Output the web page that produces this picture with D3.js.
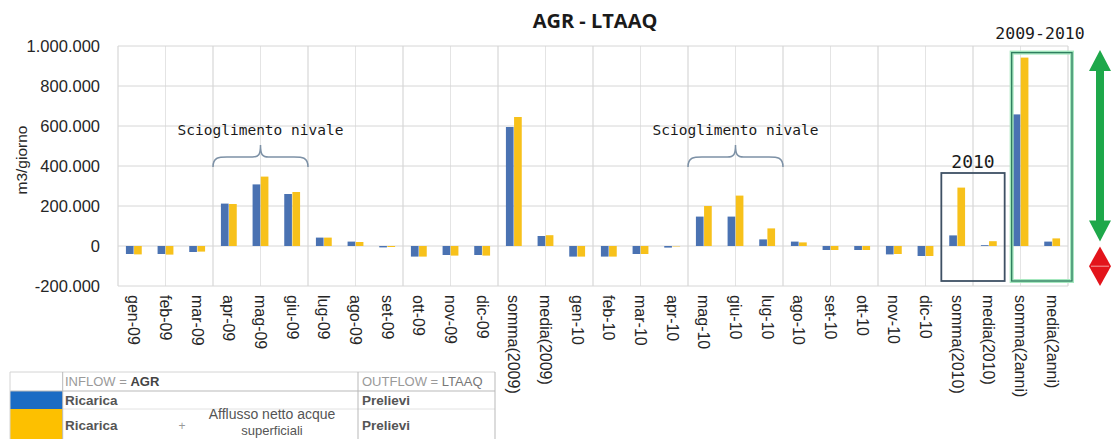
<!DOCTYPE html>
<html>
<head>
<meta charset="utf-8">
<script src="https://cdn.jsdelivr.net/npm/d3@7/dist/d3.min.js"></script>
<style>
  html, body { margin: 0; padding: 0; background: #fff; }
  svg { display: block; }
</style>
</head>
<body>
<svg id="chart" width="1118" height="439" font-family="'Liberation Sans', Arial, sans-serif"></svg>
<script>
const categories = ["gen-09","feb-09","mar-09","apr-09","mag-09","giu-09","lug-09","ago-09","set-09","ott-09","nov-09","dic-09",
  "somma(2009)","media(2009)",
  "gen-10","feb-10","mar-10","apr-10","mag-10","giu-10","lug-10","ago-10","set-10","ott-10","nov-10","dic-10",
  "somma(2010)","media(2010)","somma(2anni)","media(2anni)"];
const seriesNames = ["Ricarica", "Ricarica + Afflusso netto acque superficiali"];
const ricarica = [-40000,-40000,-30000,212000,308000,260000,42000,22000,-7000,-53000,-45000,-45000,
  595000,50000,
  -53000,-53000,-40000,-8000,147000,147000,33000,22000,-20000,-20000,-42000,-50000,
  53000,4000,658000,22000];
const ricaricaAfflusso = [-42000,-43000,-28000,210000,347000,270000,42000,20000,-5000,-53000,-48000,-48000,
  645000,54000,
  -53000,-53000,-40000,-2000,200000,252000,88000,18000,-20000,-20000,-40000,-50000,
  292000,24000,942000,38000];
const yTicks = [-200000, 0, 200000, 400000, 600000, 800000, 1000000];
const titleText = "AGR - LTAAQ";
const yLabel = "m3/giorno";

const svg = d3.select("#chart");
const pLeft = 118, pRight = 1068, pTop = 46, pBottom = 286;
const MONO = "'DejaVu Sans Mono', 'Liberation Mono', monospace";

const x = d3.scaleBand().domain(categories).range([pLeft, pRight]).padding(0);
const groupW = x.bandwidth() * 0.5;
const x1 = d3.scaleBand().domain(seriesNames).range([0, groupW]).paddingInner(0.06);
const y = d3.scaleLinear().domain([-200000, 1000000]).range([pBottom, pTop]);
const colors = ["#4a72b2", "#f7c11b"];

const itLocale = d3.formatLocale({decimal: ",", thousands: ".", grouping: [3], currency: ["€", ""], minus: "-"});
const fmt = itLocale.format(",.0f");

// vertical grid (20 columns)
const vg = d3.range(0, 21).map(i => pLeft + i * (pRight - pLeft) / 20);
svg.append("g").selectAll("line").data(vg).join("line")
  .attr("x1", d => d).attr("x2", d => d).attr("y1", pTop).attr("y2", pBottom)
  .attr("stroke", (d, i) => i % 2 === 0 ? "#cfcfcf" : "#e4e4e4").attr("stroke-width", 1);

// horizontal grid
svg.append("g").selectAll("line").data(yTicks).join("line")
  .attr("x1", pLeft).attr("x2", pRight).attr("y1", d => y(d)).attr("y2", d => y(d))
  .attr("stroke", "#d6d6d6").attr("stroke-width", 1);

// y axis
const yAxis = d3.axisLeft(y).tickValues(yTicks).tickFormat(fmt).tickSize(0).tickPadding(18);
const gy = svg.append("g").attr("transform", `translate(${pLeft},0)`).call(yAxis);
gy.select(".domain").remove();
gy.attr("font-family", null).attr("font-size", null);
gy.selectAll("text").attr("font-size", 16.5).attr("fill", "#262626");

// x axis labels
const xAxis = d3.axisBottom(x).tickSize(0).tickPadding(0);
const gx = svg.append("g").attr("transform", `translate(0,${pBottom})`).call(xAxis);
gx.select(".domain").remove();
gx.attr("font-family", null).attr("font-size", null);
gx.selectAll(".tick text")
  .attr("font-size", 16).attr("fill", "#262626")
  .attr("text-anchor", "start")
  .attr("transform", "translate(0,9) rotate(90)")
  .attr("x", 0).attr("y", 0).attr("dy", "0.35em");

// bars
const data = categories.map((c, i) => ({cat: c, vals: [ricarica[i], ricaricaAfflusso[i]]}));
const groups = svg.append("g").selectAll("g").data(data).join("g")
  .attr("transform", d => `translate(${x(d.cat) + (x.bandwidth() - groupW) / 2},0)`);
groups.selectAll("rect").data(d => d.vals.map((v, k) => ({v, k}))).join("rect")
  .attr("x", d => x1(seriesNames[d.k]))
  .attr("width", x1.bandwidth())
  .attr("y", d => Math.min(y(d.v), y(0)))
  .attr("height", d => Math.abs(y(d.v) - y(0)))
  .attr("fill", d => colors[d.k]);

// title
svg.append("text").attr("x", 595).attr("y", 28).attr("text-anchor", "middle")
  .attr("font-size", 20).attr("font-weight", "bold").attr("fill", "#1a1a1a")
  .attr("font-family", "'Open Sans', 'Liberation Sans', sans-serif")
  .text(titleText);

// y label
svg.append("text").attr("transform", "translate(27,160) rotate(-90)")
  .attr("text-anchor", "middle").attr("font-size", 15.5).attr("fill", "#262626")
  .text(yLabel);

// braces
function brace(x0, x1b, yEnd, yTip) {
  const xm = (x0 + x1b) / 2, yMid = (yEnd + yTip) / 2 + 1;
  return `M${x0},${yEnd} C${x0},${yMid} ${x0 + 6},${yMid} ${x0 + 14},${yMid}
    L${xm - 8},${yMid} C${xm - 2},${yMid} ${xm},${yMid - 2} ${xm},${yTip}
    C${xm},${yMid - 2} ${xm + 2},${yMid} ${xm + 8},${yMid}
    L${x1b - 14},${yMid} C${x1b - 6},${yMid} ${x1b},${yMid} ${x1b},${yEnd}`;
}
const annot = svg.append("g");
[["apr-09","giu-09"],["mag-10","lug-10"]].forEach(([a, b]) => {
  const xa = x(a), xb = x(b) + x.bandwidth();
  annot.append("path").attr("d", brace(xa, xb, y(400000) + 1, y(505000)))
    .attr("fill", "none").attr("stroke", "#7d91a6").attr("stroke-width", 1.5);
  annot.append("text").attr("x", (xa + xb) / 2).attr("y", y(555000))
    .attr("text-anchor", "middle").attr("font-size", 14.5)
    .attr("font-family", MONO).attr("fill", "#1a1a1a")
    .text("Scioglimento nivale");
});

// 2010 box
const b1x0 = x("somma(2010)"), b1x1 = x("media(2010)") + x.bandwidth();
annot.append("rect").attr("x", b1x0).attr("y", y(365000)).attr("width", b1x1 - b1x0)
  .attr("height", y(-175000) - y(365000)).attr("fill", "none")
  .attr("stroke", "#3e5064").attr("stroke-width", 1.8);
annot.append("text").attr("x", (b1x0 + b1x1) / 2).attr("y", y(390000))
  .attr("text-anchor", "middle").attr("font-size", 18)
  .attr("font-family", MONO).attr("fill", "#1a1a1a").text("2010");

// 2009-2010 box
const b2x0 = x("somma(2anni)") + 7, b2x1 = x("media(2anni)") + x.bandwidth() + 4;
annot.append("rect").attr("x", b2x0).attr("y", y(967000)).attr("width", b2x1 - b2x0)
  .attr("height", y(-175000) - y(967000)).attr("fill", "none")
  .attr("stroke", "#a6e8bf").attr("stroke-width", 4);
annot.append("rect").attr("x", b2x0).attr("y", y(967000)).attr("width", b2x1 - b2x0)
  .attr("height", y(-175000) - y(967000)).attr("fill", "none")
  .attr("stroke", "#2f7d60").attr("stroke-width", 1.3);
annot.append("text").attr("x", 1040).attr("y", 39)
  .attr("text-anchor", "middle").attr("font-size", 16.5)
  .attr("font-family", MONO).attr("fill", "#1a1a1a").text("2009-2010");

// green double arrow
const ax = 1100;
const gTop = y(980000), gBot = y(22000), hh = 21, hw = 11, sw = 4;
annot.append("path").attr("fill", "#1ea84a").attr("d",
  `M${ax},${gTop} L${ax + hw},${gTop + hh} L${ax + sw},${gTop + hh} L${ax + sw},${gBot - hh}
   L${ax + hw},${gBot - hh} L${ax},${gBot} L${ax - hw},${gBot - hh} L${ax - sw},${gBot - hh}
   L${ax - sw},${gTop + hh} L${ax - hw},${gTop + hh} Z`);
// red double arrowhead
const rTop = y(-2000), rBot = y(-200000), rMid = (rTop + rBot) / 2;
annot.append("path").attr("fill", "#e3141b").attr("d",
  `M${ax},${rTop} L${ax + hw},${rMid} L${ax},${rBot} L${ax - hw},${rMid} Z`);
annot.append("line").attr("x1", ax - hw + 2).attr("x2", ax + hw - 2).attr("y1", rMid).attr("y2", rMid)
  .attr("stroke", "#f7a0a0").attr("stroke-width", 1);

// legend table
const lg = svg.append("g");
const tL = 10, tC1 = 62.7, tC2 = 358, tR = 495, tTop = 372, r1 = 391, r2 = 409;
lg.append("rect").attr("x", tL).attr("y", r1).attr("width", tC1 - tL).attr("height", r2 - r1).attr("fill", "#1c6cc4");
lg.append("rect").attr("x", tL).attr("y", r2).attr("width", tC1 - tL).attr("height", 439 - r2).attr("fill", "#fdc000");
const bc = "#b9b9b9";
lg.append("line").attr("x1", tL).attr("x2", tR).attr("y1", tTop).attr("y2", tTop).attr("stroke", "#d4d4d4");
lg.append("line").attr("x1", tL).attr("x2", tR).attr("y1", r1).attr("y2", r1).attr("stroke", bc);
lg.append("line").attr("x1", tC1).attr("x2", tR).attr("y1", r2).attr("y2", r2).attr("stroke", "#e2e2e2");
lg.append("line").attr("x1", tL).attr("x2", tL).attr("y1", tTop).attr("y2", 439).attr("stroke", "#d4d4d4");
lg.append("line").attr("x1", tC1).attr("x2", tC1).attr("y1", tTop).attr("y2", 439).attr("stroke", bc);
lg.append("line").attr("x1", tC2).attr("x2", tC2).attr("y1", tTop).attr("y2", 439).attr("stroke", bc);
lg.append("line").attr("x1", tR).attr("x2", tR).attr("y1", tTop).attr("y2", 439).attr("stroke", bc);

const lt = lg.append("text").attr("x", 65).attr("y", 386).attr("font-size", 13).attr("fill", "#9a9a9a");
lt.append("tspan").text("INFLOW = ");
lt.append("tspan").attr("font-weight", "bold").attr("fill", "#444").text("AGR");
const ot = lg.append("text").attr("x", 362).attr("y", 386).attr("font-size", 13).attr("fill", "#9a9a9a");
ot.append("tspan").text("OUTFLOW = ");
ot.append("tspan").attr("fill", "#777").text("LTAAQ");
lg.append("text").attr("x", 65).attr("y", 405).attr("font-size", 13.5).attr("font-weight", "bold").attr("fill", "#555").text("Ricarica");
lg.append("text").attr("x", 65).attr("y", 430).attr("font-size", 13.5).attr("font-weight", "bold").attr("fill", "#555").text("Ricarica");
lg.append("text").attr("x", 182).attr("y", 430).attr("text-anchor", "middle").attr("font-size", 12).attr("fill", "#999").text("+");
lg.append("text").attr("x", 272).attr("y", 419).attr("text-anchor", "middle").attr("font-size", 14).attr("fill", "#555").text("Afflusso netto acque");
lg.append("text").attr("x", 272).attr("y", 435).attr("text-anchor", "middle").attr("font-size", 13).attr("fill", "#555").text("superficiali");
lg.append("text").attr("x", 362).attr("y", 405).attr("font-size", 13.5).attr("font-weight", "bold").attr("fill", "#555").text("Prelievi");
lg.append("text").attr("x", 362).attr("y", 430).attr("font-size", 13.5).attr("font-weight", "bold").attr("fill", "#555").text("Prelievi");
</script>
</body>
</html>
